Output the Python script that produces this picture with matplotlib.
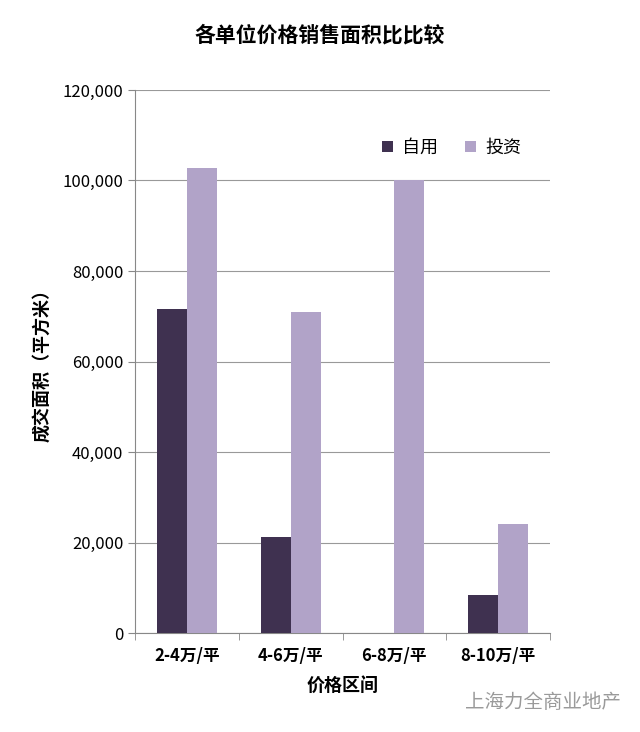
import matplotlib
matplotlib.use("Agg")
import matplotlib.pyplot as plt
import numpy as np

plt.rcParams['font.family'] = ['Noto Sans CJK SC', 'DejaVu Sans']

categories = ["2-4万/平", "4-6万/平", "6-8万/平", "8-10万/平"]
self_use = [71700, 21300, 0, 8300]
invest = [102700, 70900, 100000, 24000]
yticks = [0, 20000, 40000, 60000, 80000, 100000, 120000]

fig = plt.figure(figsize=(6.4, 7.32), dpi=100)
ax = fig.add_axes([135/640, 1-633/732, 415/640, 543/732])
x = np.arange(len(categories))
w = 0.29
ax.bar(x - w/2, self_use, w, color="#3f3150", label="自用", zorder=3)
ax.bar(x + w/2, invest, w, color="#b1a3c8", label="投资", zorder=3)
ax.set_xlim(-0.5, 3.5)
ax.set_ylim(0, 120000)
ax.set_yticks(yticks)
ax.set_yticklabels([f"{v:,}" for v in yticks], fontsize=12)
ax.yaxis.grid(True, color="#999999", linewidth=0.8, zorder=0)
ax.tick_params(axis='y', length=5, color="#888888")
ax.set_xticks(x)
ax.set_xticklabels(categories, fontsize=12, fontweight='bold')
ax.tick_params(axis='x', length=0, pad=10)
ax.set_xticks(np.arange(-0.5, 4, 1), minor=True)
ax.tick_params(axis='x', which='minor', length=5, color="#888888")
for s in ['top', 'right']:
    ax.spines[s].set_visible(False)
for s in ['left', 'bottom']:
    ax.spines[s].set_color("#888888")
ax.set_ylabel("成交面积（平方米）", fontsize=13, fontweight='bold', labelpad=8)
ax.set_xlabel("价格区间", fontsize=13, fontweight='bold', labelpad=8)
ax.legend(loc='upper right', bbox_to_anchor=(0.97, 0.94), frameon=False, fontsize=13,
          handlelength=0.6, handleheight=0.6, ncol=2, columnspacing=1.5, handletextpad=0.5)
fig.text(0.5, 1-35/732, "各单位价格销售面积比比较", ha='center', va='center', fontsize=15, fontweight='bold')
fig.text(0.97, 1-703/732, "上海力全商业地产", ha='right', va='center', fontsize=14, color="#9a9a9a")
fig.savefig("out.png", dpi=100)
